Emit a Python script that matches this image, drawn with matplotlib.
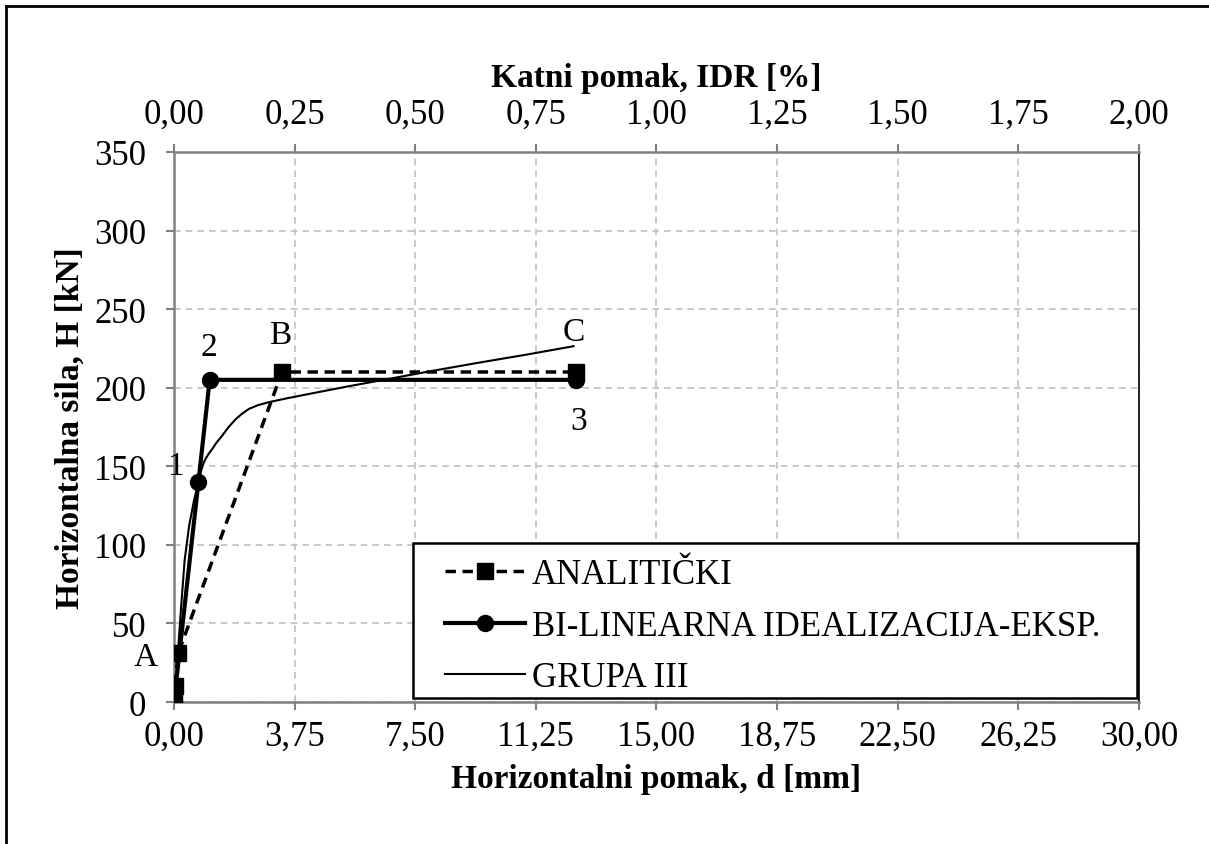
import matplotlib
matplotlib.use("Agg")
import matplotlib.pyplot as plt
from matplotlib.lines import Line2D
from matplotlib.patches import Rectangle
from matplotlib.ticker import FuncFormatter, MultipleLocator

plt.rcParams['font.family'] = ['Liberation Serif', 'DejaVu Serif']

# data
analiticki_d = [0.0, 0.02, 0.13, 3.36, 12.5]
analiticki_h = [0.0, 10.0, 31.0, 210.0, 210.0]

bilinear_d = [0.0, 0.76, 1.11, 12.5]
bilinear_h = [0.0, 140.0, 205.0, 205.0]

grupa_d = [0.0, 0.1, 0.22, 0.33, 0.47, 0.62, 0.76, 0.83, 0.9, 0.98, 1.08,
           1.19, 1.32, 1.5, 1.7, 1.92, 2.12, 2.33, 2.6, 2.95, 3.5, 4.19,
           5.4, 6.68, 8.0, 9.5, 11.0, 12.42]
grupa_h = [0.0, 25.0, 60.0, 90.0, 112.0, 128.0, 140.0, 146.0, 151.0, 154.7,
           158.0, 161.0, 165.0, 169.5, 175.0, 180.0, 183.5, 186.5, 188.8,
           190.8, 193.2, 196.0, 200.8, 205.6, 210.6, 216.0, 221.2, 226.4]

labels = ['ANALITIČKI', 'BI-LINEARNA IDEALIZACIJA-EKSP.', 'GRUPA III']

# point labels (text, x, y in data units)
point_tags = [('A', -0.88, 28.6), ('1', 0.05, 150.6), ('2', 1.09, 226.3),
              ('B', 3.31, 234.0), ('C', 12.42, 235.3), ('3', 12.58, 179.2)]

GRAY = '#808080'
FS = 25


def comma_fmt(v, pos):
    return "{:.2f}".format(v).replace('.', ',')


fig = plt.figure(figsize=(12.09, 8.45), dpi=100)
ax = fig.add_axes([0.1439, 0.168, 0.7982, 0.651])

ax.plot(analiticki_d, analiticki_h, color='black', lw=2.5, ls=(0, (3.0, 1.9)),
        marker='s', ms=11, label=labels[0], zorder=4)
ax.plot(bilinear_d, bilinear_h, color='black', lw=3.0, marker='o', ms=11.5,
        label=labels[1], zorder=3)
ax.plot(grupa_d, grupa_h, color='black', lw=1.5, label=labels[2], zorder=5)

ax.set_xlim(0, 30)
ax.set_ylim(0, 350)
ax.xaxis.set_major_locator(MultipleLocator(3.75))
ax.yaxis.set_major_locator(MultipleLocator(50))
ax.xaxis.set_major_formatter(FuncFormatter(comma_fmt))
ax.grid(True, color='#c0c0c0', ls=(0, (4, 3)), lw=1.2)
ax.set_axisbelow(True)

for side in ['left', 'bottom']:
    ax.spines[side].set_color(GRAY)
    ax.spines[side].set_linewidth(1.8)
ax.spines['right'].set_color('black')
ax.spines['right'].set_linewidth(1.2)
ax.spines['top'].set_visible(False)

ax.tick_params(axis='x', direction='out', length=6, width=1.5, color=GRAY,
               labelsize=FS, pad=7)
ax.tick_params(axis='y', direction='out', length=6, width=1.5, color=GRAY,
               labelsize=FS, pad=14)

ax.set_xlabel('Horizontalni pomak, d [mm]', fontsize=24, fontweight='bold', labelpad=7)
ax.set_ylabel('Horizontalna sila, H [kN]', fontsize=24, fontweight='bold', labelpad=6)

# secondary axis: inter-storey drift ratio
ax2 = ax.twiny()
ax2.set_xlim(0, 2.0)
ax2.xaxis.set_major_locator(MultipleLocator(0.25))
ax2.xaxis.set_major_formatter(FuncFormatter(comma_fmt))
ax2.spines['top'].set_color(GRAY)
ax2.spines['top'].set_linewidth(1.8)
for side in ['left', 'bottom', 'right']:
    ax2.spines[side].set_visible(False)
ax2.tick_params(axis='x', direction='out', length=6, width=1.5, color=GRAY,
                labelsize=FS, pad=9)
ax2.set_xlabel('Katni pomak, IDR [%]', fontsize=24, fontweight='bold', labelpad=9)

for txt, tx, ty in point_tags:
    ax.text(tx, ty, txt, fontsize=24, ha='center', va='center', clip_on=False)

# legend box drawn separately so the entries can sit inside it freely
box = Rectangle((0.2477, 0.007), 0.7503, 0.2818, transform=ax.transAxes,
                facecolor='white', edgecolor='black', lw=1.8, zorder=9)
ax.add_patch(box)
leg = ax.legend(loc='upper left', bbox_to_anchor=(0.2808, 0.262),
                fontsize=FS, frameon=False, handlelength=2.3,
                handletextpad=0.2, labelspacing=0.54, borderpad=0,
                borderaxespad=0)
leg.set_zorder(10)

# outer chart border (only top and left are visible in the frame)
fig.add_artist(Line2D([0.005, 1.0], [0.9917, 0.9917], color='black', lw=2.0,
                      transform=fig.transFigure))
fig.add_artist(Line2D([0.005, 0.005], [0.0, 0.9917], color='black', lw=2.0,
                      transform=fig.transFigure))

fig.savefig('out.png', dpi=100)
